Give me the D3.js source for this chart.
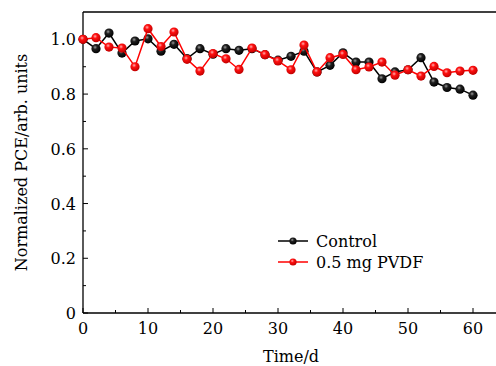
<!DOCTYPE html>
<html>
<head>
<meta charset="utf-8">
<script src="https://cdn.jsdelivr.net/npm/d3@7"></script>
<style>
  body { margin: 0; background: #fff; }
  svg { display: block; font-family: "DejaVu Serif", serif; }
</style>
</head>
<body>
<div id="chart"></div>
<script>
(function (d3) {
    "use strict";

    /***** Données *****/
    const days = [0, 2, 4, 6, 8, 10, 12, 14, 16, 18, 20, 22, 24, 26, 28, 30,
                  32, 34, 36, 38, 40, 42, 44, 46, 48, 50, 52, 54, 56, 58, 60];
    const control = [1.0, 0.966, 1.023, 0.95, 0.994, 1.002, 0.957, 0.982, 0.93, 0.966, 0.946,
                     0.966, 0.96, 0.966, 0.944, 0.924, 0.938, 0.957, 0.881, 0.905, 0.951,
                     0.917, 0.917, 0.856, 0.881, 0.889, 0.933, 0.844, 0.824, 0.818, 0.796];
    const pvdf = [1.0, 1.006, 0.972, 0.968, 0.90, 1.039, 0.974, 1.027, 0.927, 0.884, 0.948,
                  0.929, 0.89, 0.968, 0.944, 0.921, 0.889, 0.979, 0.881, 0.933, 0.945,
                  0.889, 0.899, 0.917, 0.869, 0.889, 0.866, 0.901, 0.878, 0.884, 0.887];
    const seriesNames = ["Control", "0.5 mg PVDF"];
    const xTicks = [0, 10, 20, 30, 40, 50, 60];
    const yTicks = [0, 0.2, 0.4, 0.6, 0.8, 1.0];

    /***** Configuration *****/
    const width = 496, height = 366;
    const margin = { top: 12, left: 83, bottom: 53 };
    const plotBottom = height - margin.bottom;
    const fs = 16;

    const x = d3.scaleLinear().domain([0, 65]).range([margin.left, margin.left + 65 * 6.5]);
    const y = d3.scaleLinear().domain([0, 1.1]).range([plotBottom, margin.top]);

    const svg = d3.select("#chart").append("svg")
        .attr("width", width)
        .attr("height", height);

    // dégradés pour les marqueurs "boules"
    const defs = svg.append("defs");
    function ball(id, light, mid, dark) {
        const g = defs.append("radialGradient").attr("id", id)
            .attr("cx", "40%").attr("cy", "35%").attr("r", "65%");
        g.append("stop").attr("offset", "0%").attr("stop-color", light);
        g.append("stop").attr("offset", "35%").attr("stop-color", mid);
        g.append("stop").attr("offset", "100%").attr("stop-color", dark);
    }
    ball("ballBlack", "#9a9a9a", "#202020", "#000");
    ball("ballRed", "#ffb0b0", "#ff1010", "#c00000");

    /***** Axes *****/
    const axisColor = "#000";
    // cadre
    svg.append("line").attr("x1", x(0)).attr("x2", width).attr("y1", y(1.1)).attr("y2", y(1.1))
        .attr("stroke", axisColor).attr("stroke-width", 1.3);
    svg.append("line").attr("x1", x(0)).attr("x2", width).attr("y1", plotBottom).attr("y2", plotBottom)
        .attr("stroke", axisColor).attr("stroke-width", 1.3);
    svg.append("line").attr("x1", x(0)).attr("x2", x(0)).attr("y1", y(1.1)).attr("y2", plotBottom)
        .attr("stroke", axisColor).attr("stroke-width", 1.3);

    // graduations en X (vers l'intérieur)
    const xMinor = d3.range(0, 65, 5);
    svg.append("g").selectAll("line").data(xMinor).join("line")
        .attr("x1", d => x(d)).attr("x2", d => x(d))
        .attr("y1", plotBottom).attr("y2", d => plotBottom - (d % 10 === 0 ? 5 : 3))
        .attr("stroke", axisColor);
    svg.append("g").selectAll("text").data(xTicks).join("text")
        .attr("x", d => x(d)).attr("y", plotBottom + 21)
        .attr("text-anchor", "middle").attr("font-size", fs)
        .text(d => d);

    // graduations en Y
    const yMinor = d3.range(0, 11).map(i => i / 10);
    svg.append("g").selectAll("line").data(yMinor).join("line")
        .attr("x1", x(0)).attr("x2", d => x(0) + (Math.round(d * 10) % 2 === 0 ? 5 : 3))
        .attr("y1", d => y(d)).attr("y2", d => y(d))
        .attr("stroke", axisColor);
    svg.append("g").selectAll("text").data(yTicks).join("text")
        .attr("x", x(0) - 7).attr("y", d => y(d) + 6)
        .attr("text-anchor", "end").attr("font-size", fs)
        .text(d => d === 0 ? "0" : d.toFixed(1));

    // titres des axes
    svg.append("text").attr("x", 291).attr("y", 362)
        .attr("text-anchor", "middle").attr("font-size", fs)
        .text("Time/d");
    svg.append("text")
        .attr("transform", "translate(27," + (y(0.55)) + ") rotate(-90)")
        .attr("text-anchor", "middle").attr("font-size", fs)
        .text("Normalized PCE/arb. units");

    /***** Séries *****/
    const series = [
        { name: seriesNames[0], values: control, color: "#000", fill: "url(#ballBlack)" },
        { name: seriesNames[1], values: pvdf, color: "#ff0000", fill: "url(#ballRed)" }
    ];

    const line = d3.line().x((d, i) => x(days[i])).y(d => y(d));

    series.forEach(s => {
        svg.append("path").datum(s.values)
            .attr("fill", "none").attr("stroke", s.color).attr("stroke-width", 1.5)
            .attr("d", line);
        svg.append("g").selectAll("circle").data(s.values).join("circle")
            .attr("cx", (d, i) => x(days[i])).attr("cy", d => y(d))
            .attr("r", 4.6).attr("fill", s.fill);
    });

    /***** Légende *****/
    const legend = svg.append("g");
    series.forEach((s, i) => {
        const ly = 241 + i * 21;
        legend.append("line").attr("x1", 278).attr("x2", 308).attr("y1", ly).attr("y2", ly)
            .attr("stroke", s.color).attr("stroke-width", 1.5);
        legend.append("circle").attr("cx", 293).attr("cy", ly).attr("r", 3.6).attr("fill", s.fill);
        legend.append("text").attr("x", 316).attr("y", ly + 6)
            .attr("font-size", fs).text(s.name);
    });
})(d3);
</script>
</body>
</html>
